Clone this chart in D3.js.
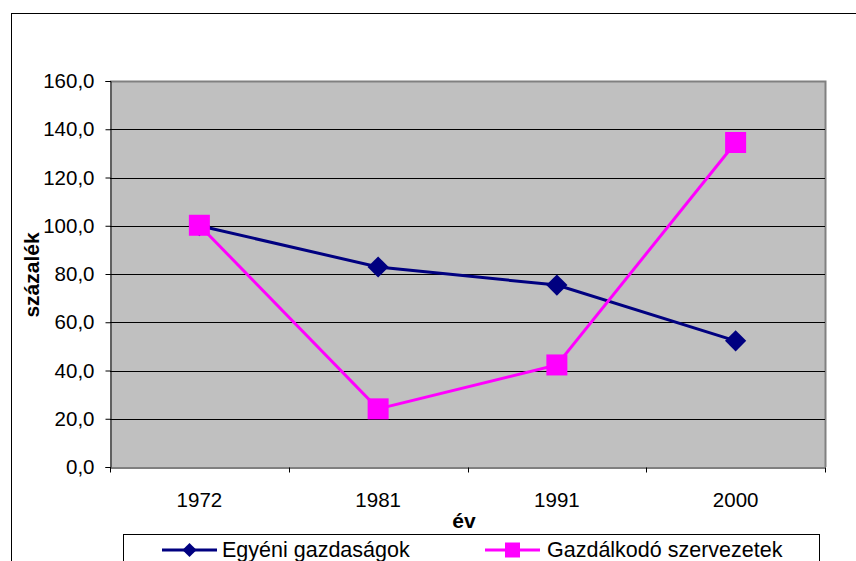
<!DOCTYPE html>
<html>
<head>
<meta charset="utf-8">
<script src="https://cdn.jsdelivr.net/npm/d3@7"></script>
<style>
  body { margin: 0; background: #fff; }
  svg text { font-family: Arial, "Liberation Sans", sans-serif; fill: #000; }
</style>
</head>
<body>
<div id="chart"></div>
<script>
// data
const years = ["1972", "1981", "1991", "2000"];
const egyeni = [100.0, 82.9, 75.4, 52.3];
const gazdalkodo = [100.2, 24.1, 42.3, 134.5];
const yTicks = [0, 20, 40, 60, 80, 100, 120, 140, 160];

const W = 856, H = 561;
const svg = d3.select("#chart").append("svg")
  .attr("width", W).attr("height", H);

svg.append("rect").attr("width", W).attr("height", H).attr("fill", "#fff");

// outer chart frame (runs off the picture right and bottom)
svg.append("rect")
  .attr("x", 11.5).attr("y", 13.5)
  .attr("width", 900).attr("height", 600)
  .attr("fill", "none").attr("stroke", "#000").attr("stroke-width", 1);

const pLeft = 110, pRight = 825, pTop = 81, pBottom = 467;

const y = d3.scaleLinear().domain([0, 160]).range([pBottom, pTop]);
const xBand = d3.scaleBand().domain(years).range([pLeft, pRight]);
const x = d => xBand(d) + xBand.bandwidth() / 2;

// plot area
svg.append("rect")
  .attr("x", pLeft).attr("y", pTop)
  .attr("width", pRight - pLeft).attr("height", pBottom - pTop)
  .attr("fill", "#c0c0c0");
svg.append("path")
  .attr("d", `M${pLeft},${pTop + 0.5}H${pRight + 0.5}V${pBottom}`)
  .attr("fill", "none").attr("stroke", "#808080").attr("stroke-width", 2);

// gridlines
svg.append("g").selectAll("line")
  .data(yTicks.filter(d => d > 0 && d < 160))
  .join("line")
  .attr("x1", pLeft).attr("x2", pRight)
  .attr("y1", d => Math.round(y(d)) + 0.5).attr("y2", d => Math.round(y(d)) + 0.5)
  .attr("stroke", "#000").attr("stroke-width", 1);

// y axis
const yAxis = svg.append("g")
  .attr("transform", `translate(${pLeft + 0.5},0)`)
  .call(d3.axisLeft(y).tickValues(yTicks).tickSize(5).tickPadding(11)
    .tickFormat(d => d.toFixed(1).replace(".", ",")));
yAxis.select(".domain").attr("stroke", "#000");
yAxis.selectAll(".tick line").attr("stroke", "#000");
yAxis.selectAll("text").attr("font-size", 20.5).attr("fill", "#000");

// x axis
const xAxis = svg.append("g")
  .attr("transform", `translate(0,${pBottom + 0.5})`)
  .call(d3.axisBottom(xBand).tickSize(0).tickPadding(25));
xAxis.select(".domain").attr("stroke", "#000");
xAxis.selectAll("text").attr("font-size", 20.5).attr("fill", "#000");
xAxis.append("g").selectAll("line")
  .data(years.map(d => xBand(d)).concat([pRight]))
  .join("line")
  .attr("x1", d => Math.round(d) + 0.5).attr("x2", d => Math.round(d) + 0.5)
  .attr("y1", 0).attr("y2", 5)
  .attr("stroke", "#000");

// axis titles
svg.append("text")
  .attr("x", 464).attr("y", 528)
  .attr("text-anchor", "middle")
  .attr("font-size", 21).attr("font-weight", "bold")
  .text("év");
svg.append("text")
  .attr("transform", "translate(39,275) rotate(-90)")
  .attr("text-anchor", "middle")
  .attr("font-size", 21).attr("font-weight", "bold")
  .text("százalék");

// series
const series = [
  { name: "Egyéni gazdaságok", values: egyeni, color: "#000080", symbol: "diamond" },
  { name: "Gazdálkodó szervezetek", values: gazdalkodo, color: "#ff00ff", symbol: "square" }
];

const line = d3.line().x((d, i) => x(years[i])).y(d => y(d));

function marker(g, s, size) {
  const p = g.append("path")
    .attr("d", d3.symbol(d3.symbolSquare, size * size)())
    .attr("fill", s.color);
  if (s.symbol === "diamond") p.attr("transform", "rotate(45)");
}

series.forEach(s => {
  svg.append("path")
    .datum(s.values)
    .attr("d", line)
    .attr("fill", "none")
    .attr("stroke", s.color)
    .attr("stroke-width", 3);
  s.values.forEach((v, i) => {
    const g = svg.append("g").attr("transform", `translate(${x(years[i])},${y(v)})`);
    marker(g, s, s.symbol === "diamond" ? 15 : 21);
  });
});

// legend
svg.append("rect")
  .attr("x", 123.5).attr("y", 534.5)
  .attr("width", 696).attr("height", 60)
  .attr("fill", "#fff").attr("stroke", "#000");

const legendItems = [
  { s: series[0], x0: 162, tx: 222 },
  { s: series[1], x0: 485, tx: 547 }
];
legendItems.forEach(it => {
  svg.append("line")
    .attr("x1", it.x0).attr("x2", it.x0 + 55)
    .attr("y1", 550).attr("y2", 550)
    .attr("stroke", it.s.color).attr("stroke-width", 3);
  const g = svg.append("g").attr("transform", `translate(${it.x0 + 27.5},550)`);
  marker(g, it.s, it.s.symbol === "diamond" ? 10 : 15);
  svg.append("text")
    .attr("x", it.tx).attr("y", 557)
    .attr("font-size", 21.5)
    .text(it.s.name);
});
</script>
</body>
</html>
